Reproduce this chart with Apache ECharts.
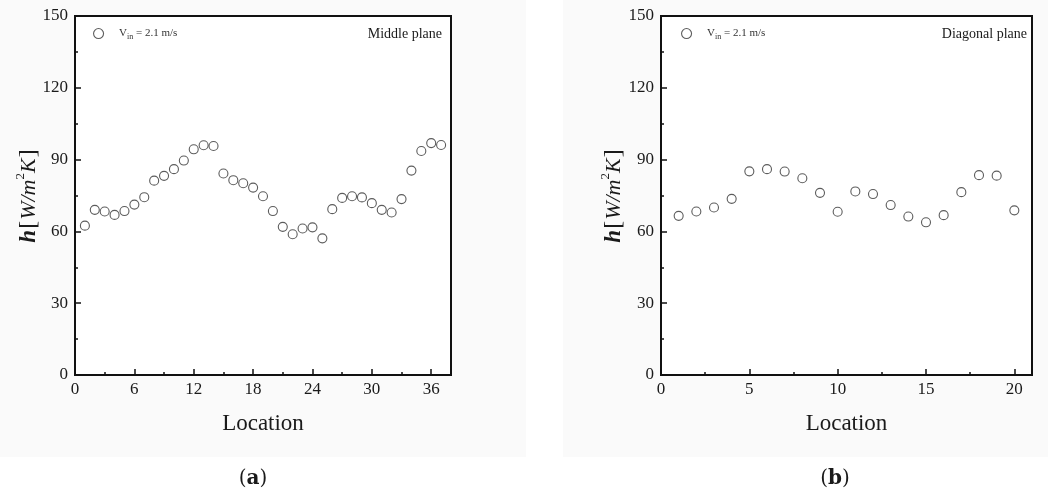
<!DOCTYPE html>
<html>
<head>
<meta charset="utf-8">
<script src="https://cdn.jsdelivr.net/npm/echarts@6/dist/echarts.min.js"></script>
<style>
html,body{margin:0;padding:0;background:#fff;}
#c{width:1048px;height:494px;}
</style>
</head>
<body>
<div id="c"></div>
<script>
// ---- data ----
const middleLocations = [1,2,3,4,5,6,7,8,9,10,11,12,13,14,15,16,17,18,19,20,21,22,23,24,25,26,27,28,29,30,31,32,33,34,35,36,37];
const middleH = [62.4,69.0,68.3,66.9,68.5,71.2,74.3,81.2,83.2,86.0,89.6,94.3,96.0,95.7,84.2,81.4,80.1,78.3,74.7,68.5,61.9,58.8,61.2,61.7,57.1,69.3,74.0,74.7,74.2,71.8,69.0,67.9,73.5,85.4,93.6,96.9,96.1];
const diagonalLocations = [1,2,3,4,5,6,7,8,9,10,11,12,13,14,15,16,17,18,19,20];
const diagonalH = [66.5,68.3,70.0,73.6,85.1,86.0,85.0,82.2,76.1,68.2,76.7,75.6,71.0,66.2,63.8,66.8,76.4,83.5,83.3,68.8];
const yTicks = {min:0, max:150, interval:30};
const seriesName = 'Vin';
const legendLabel = ['V', 'in', ' = 2.1 m/s'];
const planeLabels = ['Middle plane', 'Diagonal plane'];
const panelLabels = ['a', 'b'];
const xAxisTitle = 'Location';

const FONT = '"Liberation Serif","Times New Roman",serif';
const chart = echarts.init(document.getElementById('c'));

const grids = [
  {left:75, top:16, width:376, height:359},
  {left:661, top:16, width:371, height:359}
];

function xAxis(idx, max, interval){
  return {
    type:'value', gridIndex:idx, min:0, max:max, interval:interval,
    axisLine:{show:true, lineStyle:{color:'#111', width:2}},
    axisTick:{show:true, inside:true, length:6, lineStyle:{color:'#111', width:1.5}},
    minorTick:{show:true, splitNumber:2, length:3, lineStyle:{color:'#111', width:1.5}},
    splitLine:{show:false},
    axisLabel:{show:true, showMaxLabel:false, color:'#1a1a1a', fontFamily:FONT, fontSize:17, margin:6,
      formatter:function(v){ return (v % interval === 0) ? String(v) : ''; }},
    name:xAxisTitle, nameLocation:'middle', nameGap:37, nameMoveOverlap:false,
    nameTextStyle:{color:'#1a1a1a', fontFamily:FONT, fontSize:23}
  };
}
function yAxis(idx, gap){
  return {
    type:'value', gridIndex:idx, min:yTicks.min, max:yTicks.max, interval:yTicks.interval,
    axisLine:{show:true, lineStyle:{color:'#111', width:2}},
    axisTick:{show:true, inside:true, length:6, lineStyle:{color:'#111', width:1.5}},
    minorTick:{show:true, splitNumber:2, length:3, lineStyle:{color:'#111', width:1.5}},
    splitLine:{show:false},
    axisLabel:{color:'#1a1a1a', fontFamily:FONT, fontSize:17, margin:7},
    name:'{h|h}{b|[}{t|W/m}{s|2}{t|K}{b|]}', nameLocation:'middle', nameGap:gap, nameRotate:90,
    nameMoveOverlap:false,
    nameTextStyle:{
      color:'#1a1a1a', fontFamily:FONT,
      rich:{
        h:{fontFamily:FONT, fontSize:23, fontWeight:'bold', fontStyle:'italic', color:'#1a1a1a', lineHeight:30},
        b:{fontFamily:FONT, fontSize:24, color:'#1a1a1a', lineHeight:30, padding:[0,1,0,1]},
        t:{fontFamily:FONT, fontSize:22, fontStyle:'italic', color:'#1a1a1a', lineHeight:30},
        s:{fontFamily:FONT, fontSize:13, color:'#1a1a1a', verticalAlign:'top', lineHeight:15}
      }
    }
  };
}

function scatter(idx, xs, ys){
  return {
    name:seriesName, type:'scatter', xAxisIndex:idx, yAxisIndex:idx,
    data: xs.map((x,i)=>[x, ys[i]]),
    symbol:'circle', symbolSize:9,
    itemStyle:{color:'#fff', borderColor:'#333', borderWidth:1.1},
    emphasis:{disabled:true}, silent:true
  };
}

function legend(left){
  return {
    data:[seriesName], left:left, top:23, itemWidth:11, itemHeight:10, itemGap:6,
    selectedMode:false,
    itemStyle:{color:'#fff', borderColor:'#333', borderWidth:1.1},
    formatter:function(){ return '{v|'+legendLabel[0]+'}{sub|'+legendLabel[1]+'}{t|'+legendLabel[2]+'}'; },
    textStyle:{
      padding:[0,0,0,10],
      rich:{
        v:{fontFamily:FONT, fontSize:11, color:'#333'},
        sub:{fontFamily:FONT, fontSize:8, color:'#333', verticalAlign:'bottom', padding:[6,0,0,0]},
        t:{fontFamily:FONT, fontSize:11, color:'#333'}
      }
    }
  };
}

const option = {
  backgroundColor:'#ffffff',
  animation:false,
  grid: grids.map(g=>Object.assign({show:true, borderColor:'#111', borderWidth:2, backgroundColor:'#fff'}, g)),
  xAxis:[xAxis(0, 38, 6), xAxis(1, 21, 5)],
  yAxis:[yAxis(0, 31), yAxis(1, 32)],
  legend:[legend(88), legend(676)],
  series:[scatter(0, middleLocations, middleH), scatter(1, diagonalLocations, diagonalH)],
  graphic:[
    {type:'rect', z:-10, silent:true, shape:{x:0, y:0, width:526, height:457}, style:{fill:'#fafafa'}},
    {type:'rect', z:-10, silent:true, shape:{x:563, y:0, width:485, height:457}, style:{fill:'#fafafa'}},
    {type:'text', x:442, y:34, silent:true,
      style:{text:planeLabels[0], fill:'#1a1a1a', font:'14px '+FONT, align:'right', verticalAlign:'middle'}},
    {type:'text', x:1027, y:34, silent:true,
      style:{text:planeLabels[1], fill:'#1a1a1a', font:'14px '+FONT, align:'right', verticalAlign:'middle'}},
    {type:'text', x:253, y:479, silent:true,
      style:{text:'({b|'+panelLabels[0]+'})', align:'center', verticalAlign:'middle', fill:'#1a1a1a',
        font:'20px "DejaVu Serif",serif',
        rich:{b:{fontFamily:'"DejaVu Serif",serif', fontSize:20, fontWeight:'bold', fill:'#1a1a1a'}}}},
    {type:'text', x:835, y:479, silent:true,
      style:{text:'({b|'+panelLabels[1]+'})', align:'center', verticalAlign:'middle', fill:'#1a1a1a',
        font:'20px "DejaVu Serif",serif',
        rich:{b:{fontFamily:'"DejaVu Serif",serif', fontSize:20, fontWeight:'bold', fill:'#1a1a1a'}}}}
  ]
};
chart.setOption(option);
</script>
</body>
</html>
